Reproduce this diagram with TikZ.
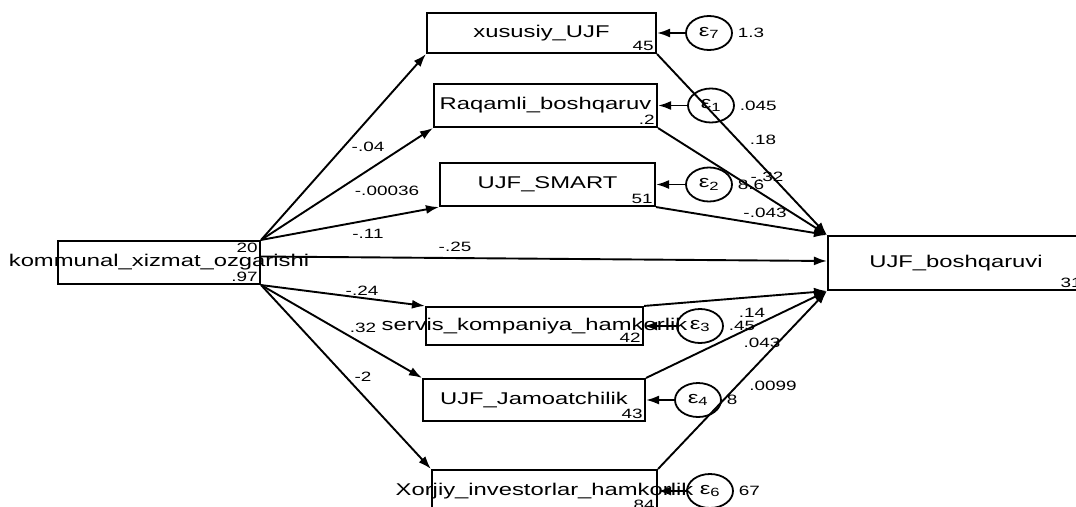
\documentclass[tikz,border=0pt]{standalone}
\usepackage{fontspec}
\newfontfamily\stretchsans[FakeStretch=1.4]{Liberation Sans}
\newcommand\varfont{\stretchsans\fontsize{17pt}{18pt}\selectfont}
\newcommand\coeffont{\stretchsans\fontsize{13.5pt}{14pt}\selectfont}
\usetikzlibrary{arrows.meta,shapes.geometric}

\begin{document}
\begin{tikzpicture}[x=1pt,y=-1pt,line width=1.9pt,>={Latex[length=13pt,width=9pt]}]
  \tikzstyle{box}=[rectangle,draw=black,line width=2.1pt,inner sep=0pt]
  \tikzstyle{err}=[ellipse,draw=black,line width=1.8pt,minimum width=46pt,minimum height=34pt,inner sep=0pt,font=\varfont]
  \tikzstyle{coef}=[font=\coeffont,inner sep=0pt]
  \tikzstyle{corner}=[font=\coeffont,inner sep=2.5pt]

  \useasboundingbox (0,0) rectangle (1076,506);

  % observed variables
  \foreach \name/\x/\y/\w/\h/\text in {kom/159/262.5/202/43/kommunal\_xizmat\_ozgarishi,
                                      xus/541.5/33/229/40/xususiy\_UJF,
                                      raq/545.5/105.5/223/43/Raqamli\_boshqaruv,
                                      sma/547.5/184.5/215/43/UJF\_SMART,
                                      ser/534.5/326/217/38/servis\_kompaniya\_hamkorlik,
                                      jam/534/400/222/42/UJF\_Jamoatchilik,
                                      xor/544.5/491/225/42/Xorjiy\_investorlar\_hamkorlik,
                                      boq/956/263/256/54/UJF\_boshqaruvi}
    \node[box,minimum width=\w pt,minimum height=\h pt,label=center:{\varfont\text}] (\name) at (\x,\y) {};

  % intercepts
  \node[corner,anchor=north east] (m-kom) at (kom.north east) {20};
  \foreach \name/\val in {kom/.97, xus/45, raq/.2, sma/51, ser/42, jam/43, xor/84, boq/31}
    \node[corner,anchor=south east] (i-\name) at (\name.south east) {\val};

  % error terms
  \foreach \name/\x/\y/\sub/\var in {e7/709/33/7/1.3, e1/711/105.5/1/.045, e2/709/184.5/2/8.6,
                                     e3/700/326/3/.45, e4/698/400/4/8, e6/710/491/6/67}
  {
    \node[err] (\name) at (\x,\y) {ε\textsubscript{\sub}};
    \node[coef,anchor=west] (v-\name) at ([xshift=4pt]\name.east) {\var};
  }

  % path coefficients
  \foreach \name/\x/\y/\val in {c1/368/147/-.04, c2/387/191/-.00036, c3/368/234/-.11,
                                c4/455/247/-.25, c5/362/291/-.24, c6/363/328/.32,
                                c7/363/377/-2, c8/763/140/.18, c9/767/177/-.32,
                                c10/765/213/-.043, c11/752/313/.14, c12/762/343/.043,
                                c13/773/386/.0099}
    \node[coef] (\name) at (\x,\y) {\val};

  \foreach \to in {xus,raq,sma}
    \draw[->] (kom.north east) -- (\to.south west);
  \draw[->] ([yshift=6pt]kom.east) -- ([yshift=2pt]boq.west);
  \foreach \to in {ser,jam,xor}
    \draw[->] (kom.south east) -- (\to.north west);

  \foreach \from in {xus,raq,sma}
    \draw[->] (\from.south east) -- (boq.north west);
  \foreach \from in {ser,jam,xor}
    \draw[->] (\from.north east) -- (boq.south west);

  \foreach \from/\to in {e7/xus,e1/raq,e2/sma,e3/ser,e4/jam,e6/xor}
    \draw[->] (\from) -- (\to);
\end{tikzpicture}
\end{document}
